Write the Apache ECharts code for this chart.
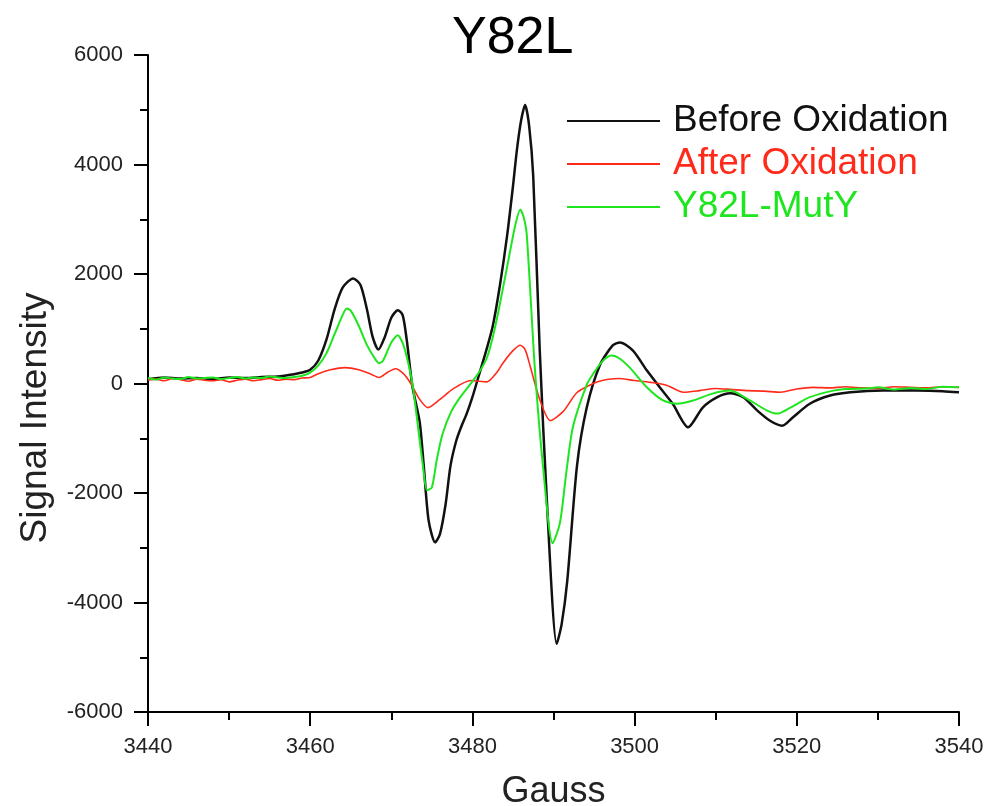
<!DOCTYPE html>
<html>
<head>
<meta charset="utf-8">
<title>Y82L</title>
<script src="https://cdn.jsdelivr.net/npm/echarts@6/dist/echarts.min.js"></script>
<style>
  html, body { margin: 0; padding: 0; background: #fff; }
  #chart { width: 991px; height: 806px; }
</style>
</head>
<body>
<div id="chart"></div>
<script>
// x ticks / y ticks
const gaussTicks = [3440, 3460, 3480, 3500, 3520, 3540];
const signalTicks = [-6000, -4000, -2000, 0, 2000, 4000, 6000];

// Before Oxidation (black)
const beforeGauss = [3440,3442,3444,3446,3448,3450,3452,3454,3456,3458,3459,3460,3461,3462,3463,3464,3465.3,3466.2,3467,3467.7,3468.4,3469.2,3470,3470.8,3471.4,3471.9,3472.6,3473.5,3474,3474.6,3475.4,3476,3476.7,3477.3,3478,3478.6,3479.3,3480,3480.9,3481.7,3482.5,3483.4,3484.3,3485,3485.5,3486,3486.5,3487,3487.5,3488.3,3489.2,3490.4,3491,3491.7,3492.9,3494.1,3495.7,3497.3,3498.2,3499.8,3501.5,3503.1,3504.7,3506.6,3508.4,3510.2,3511.8,3513.4,3515.1,3516.7,3518.2,3519.5,3521.6,3524.1,3526.6,3530.6,3534.8,3538,3540];
const beforeSignal = [80,110,90,100,80,110,100,120,130,170,200,250,420,800,1350,1750,1920,1800,1350,850,620,850,1200,1340,1250,800,-50,-700,-1500,-2500,-2900,-2750,-2200,-1500,-1050,-800,-550,-250,200,600,1040,1800,2725,3600,4280,4800,5085,4700,3786,622,-2195,-4755,-4400,-3600,-1500,-440,330,695,750,600,240,-70,-370,-800,-440,-250,-180,-250,-490,-680,-770,-620,-370,-220,-160,-130,-130,-140,-160];

// After Oxidation (red)
const afterGauss = [3440,3441,3442,3443,3444,3445,3446,3447,3448,3449,3450,3451,3452,3453,3454,3455,3456,3457,3458,3459,3460,3461,3462.5,3464.3,3466,3467.5,3468.5,3469.5,3470.5,3471.5,3472.4,3473.5,3474.5,3476,3477.7,3479.8,3481.8,3483,3483.8,3485,3485.9,3486.5,3487.1,3488.3,3489.6,3491.2,3492.9,3494.9,3496,3498,3500,3502,3504,3506,3508,3510,3512,3514,3516,3518,3520,3522,3524,3526,3528,3530,3532,3534,3536,3538,3540];
const afterSignal = [60,80,50,90,70,40,80,60,50,70,30,60,80,50,70,90,60,80,70,100,110,180,250,290,250,170,110,200,270,180,0,-290,-440,-290,-90,55,30,200,380,600,700,620,330,-290,-677,-510,-165,0,55,90,55,20,-35,-160,-130,-90,-110,-130,-140,-160,-100,-70,-80,-60,-80,-90,-60,-70,-80,-60,-70];

// Y82L-MutY (green)
const mutGauss = [3440,3441,3442,3443,3444,3445,3446,3447,3448,3449,3450,3451,3452,3453,3454,3455,3456,3457,3458,3459,3460,3461,3462,3463,3464,3464.5,3465,3466,3467,3468,3468.5,3469,3470,3470.8,3471.5,3472.2,3472.7,3473.3,3473.9,3474.4,3475,3475.6,3476.3,3477.4,3478.5,3479.7,3480.8,3481.8,3482.6,3483.4,3484.6,3485.3,3485.9,3486.3,3486.7,3487.7,3488.7,3489.9,3490.8,3491.6,3492.4,3494.1,3494.9,3496,3497.1,3498,3499.4,3501.5,3503.5,3505.2,3507.2,3509.7,3511.8,3514.2,3516.3,3517.6,3519.2,3521.6,3524.5,3526,3528.7,3530,3532,3534,3536,3538,3540];
const mutSignal = [100,70,110,90,80,120,90,100,110,80,100,120,90,110,100,130,110,100,120,140,200,330,550,900,1250,1370,1330,1050,700,450,370,420,750,880,700,300,-100,-800,-1500,-1950,-1900,-1400,-930,-510,-250,-20,200,475,900,1460,2380,2900,3180,3050,2725,275,-1500,-2920,-2540,-1600,-790,-20,180,400,510,470,290,-70,-310,-370,-310,-180,-130,-310,-490,-550,-440,-250,-130,-100,-90,-70,-110,-80,-100,-60,-70];

const seriesNames = ['Before Oxidation', 'After Oxidation', 'Y82L-MutY'];
const seriesColors = ['#111111', '#ff2a1a', '#1ee61e'];

const FONT = '"Liberation Sans", Arial, sans-serif';

function pairs(xs, ys) {
  return xs.map((x, i) => [x, ys[i]]);
}

const chart = echarts.init(document.getElementById('chart'), null, { renderer: 'canvas' });

const axisCommon = {
  type: 'value',
  axisLine: { show: true, onZero: false, lineStyle: { color: '#000', width: 2 } },
  axisTick: { show: true, inside: false, length: 14, lineStyle: { color: '#000', width: 2 } },
  minorTick: { show: true, splitNumber: 2, length: 8, lineStyle: { color: '#000', width: 2 } },
  splitLine: { show: false },
  axisLabel: { color: '#222', fontSize: 22, fontFamily: FONT, formatter: v => String(v) }
};

const option = {
  backgroundColor: '#ffffff',
  animation: false,
  title: {
    text: 'Y82L',
    left: 452,
    top: 13,
    padding: 0,
    textStyle: { fontSize: 52, fontWeight: 'normal', color: '#000', fontFamily: FONT }
  },
  legend: {
    orient: 'vertical',
    left: 567,
    top: 102,
    padding: 0,
    icon: 'rect',
    itemWidth: 93,
    itemHeight: 2,
    itemGap: 5,
    data: seriesNames.map((n, i) => ({
      name: n,
      textStyle: { color: seriesColors[i] }
    })),
    textStyle: { fontSize: 37, fontFamily: FONT, lineHeight: 38, padding: [0, 0, 0, 8] }
  },
  grid: {
    left: 148, right: 32, top: 55, bottom: 94,
    containLabel: false,
    outerBoundsMode: 'none'
  },
  xAxis: Object.assign({}, axisCommon, {
    min: gaussTicks[0],
    max: gaussTicks[gaussTicks.length - 1],
    interval: 20,
    name: 'Gauss',
    nameLocation: 'middle',
    nameGap: 62,
    nameTextStyle: { fontSize: 36, fontFamily: FONT, color: '#222' },
    axisLabel: Object.assign({}, axisCommon.axisLabel, { margin: 24 })
  }),
  yAxis: Object.assign({}, axisCommon, {
    min: signalTicks[0],
    max: signalTicks[signalTicks.length - 1],
    interval: 2000,
    axisLabel: Object.assign({}, axisCommon.axisLabel, { margin: 25 })
  }),
  graphic: [{
    type: 'text',
    x: 36,
    y: 418,
    rotation: Math.PI / 2,
    style: {
      text: 'Signal Intensity',
      fontSize: 37,
      fontFamily: FONT,
      fill: '#222',
      align: 'center',
      verticalAlign: 'middle'
    }
  }],
  series: [
    { name: seriesNames[0], data: pairs(beforeGauss, beforeSignal), width: 2.5 },
    { name: seriesNames[1], data: pairs(afterGauss, afterSignal), width: 1.6 },
    { name: seriesNames[2], data: pairs(mutGauss, mutSignal), width: 2 }
  ].map((s, i) => ({
    name: s.name,
    type: 'line',
    data: s.data,
    symbol: 'none',
    smooth: 0.25,
    color: seriesColors[i],
    lineStyle: { color: seriesColors[i], width: s.width },
    z: 2 + i
  }))
};

chart.setOption(option);
</script>
</body>
</html>
